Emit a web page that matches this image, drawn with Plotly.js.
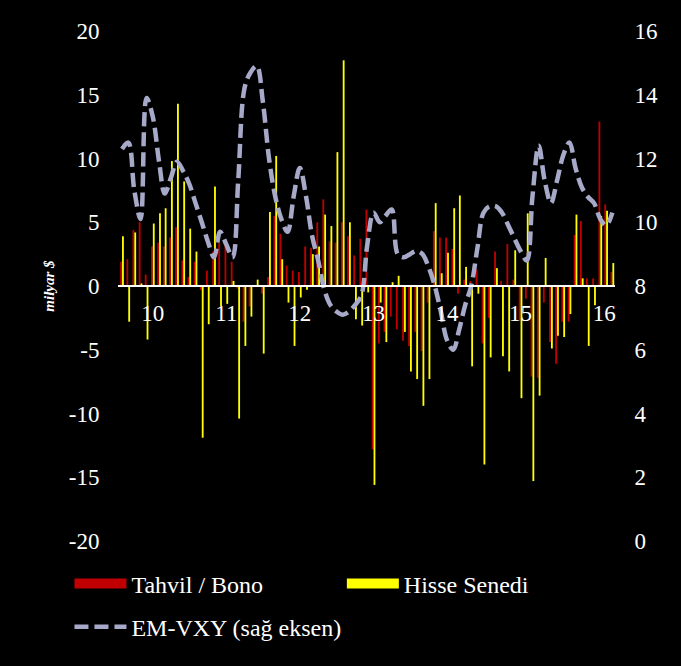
<!DOCTYPE html>
<html>
<head>
<meta charset="utf-8">
<script src="https://cdn.plot.ly/plotly-3.0.1.min.js"></script>
<style>html,body{margin:0;padding:0;background:#000;}#chart{width:681px;height:666px;}</style>
</head>
<body>
<div id="chart"></div>
<script>
var months = [
 '2009-08-01','2009-09-01','2009-10-01','2009-11-01','2009-12-01',
 '2010-01-01','2010-02-01','2010-03-01','2010-04-01','2010-05-01','2010-06-01','2010-07-01','2010-08-01','2010-09-01','2010-10-01','2010-11-01','2010-12-01',
 '2011-01-01','2011-02-01','2011-03-01','2011-04-01','2011-05-01','2011-06-01','2011-07-01','2011-08-01','2011-09-01','2011-10-01','2011-11-01','2011-12-01',
 '2012-01-01','2012-02-01','2012-03-01','2012-04-01','2012-05-01','2012-06-01','2012-07-01','2012-08-01','2012-09-01','2012-10-01','2012-11-01','2012-12-01',
 '2013-01-01','2013-02-01','2013-03-01','2013-04-01','2013-05-01','2013-06-01','2013-07-01','2013-08-01','2013-09-01','2013-10-01','2013-11-01','2013-12-01',
 '2014-01-01','2014-02-01','2014-03-01','2014-04-01','2014-05-01','2014-06-01','2014-07-01','2014-08-01','2014-09-01','2014-10-01','2014-11-01','2014-12-01',
 '2015-01-01','2015-02-01','2015-03-01','2015-04-01','2015-05-01','2015-06-01','2015-07-01','2015-08-01','2015-09-01','2015-10-01','2015-11-01','2015-12-01',
 '2016-01-01','2016-02-01','2016-03-01','2016-04-01'
];
var tahvil = [
 1.9, 2.1, 4.4, 5.0, 0.9,
 3.1, 3.4, 3.1, 3.8, 4.6, 2.0, 0.7, 1.9, -0.3, 1.2, 2.7, 3.4,
 3.2, 1.9, -0.2, -2.8, -1.6, 0.0, -0.6, 0.7, 5.5, 4.1, 1.6, 1.2,
 1.1, 3.1, 3.0, 5.0, 6.8, 3.5, 3.4, 5.0, 3.9, 2.4, 3.7, 6.0,
 -12.8, -4.5, -3.6, -2.4, -3.4, -4.3, -4.7, -3.6, -5.1, -1.3, 4.3, 3.8,
 3.8, 2.9, -0.6, 0.5, 0.4, 1.3, -4.5, -2.5, 2.7, 0.4, 3.3, 0.5,
 -2.7, -1.0, -7.1, -7.2, -1.3, -4.4, -6.1, -2.8, -2.8, 4.0, 5.1, 0.6,
 0.6, 12.9, 6.4, 1.1
];
var hisse = [
 3.9, -2.8, 4.2, 0.2, -4.2,
 4.9, 5.7, 6.1, 9.8, 14.3, 8.2, 4.5, 2.7, -11.9, -3.0, 7.8, -1.6,
 -1.4, 0.4, -10.4, -4.7, -2.4, 0.5, -5.3, 5.8, 10.2, 2.1, -1.3, -4.7,
 -0.9, -0.3, 2.5, 3.1, 5.6, 4.7, 10.5, 17.7, 5.0, -2.6, -3.1, -0.5,
 -15.6, -1.3, -4.4, 0.3, 0.8, -3.6, -6.7, -7.3, -9.4, -7.3, 6.5, 1.0,
 2.6, 6.1, 7.1, 1.5, -6.3, -0.6, -14.0, -5.6, 1.4, -5.5, -6.7, 2.8,
 -8.8, 5.7, -15.3, -8.6, 2.2, -4.9, -3.9, -4.0, -2.2, 5.6, 0.6, -4.7,
 -1.5, 5.5, 5.9, 1.8
];
var emvxy = [
 12.3, 12.5, 11.0, 10.1, 13.9,
 13.3, 11.9, 10.9, 11.4, 11.9, 11.6, 11.2, 10.6, 10.0, 9.4, 8.9, 9.7,
 9.3, 8.9, 11.3, 14.2, 14.7, 14.9, 13.8, 12.0, 10.8, 10.1, 9.7, 10.8,
 11.7, 10.8, 9.6, 8.8, 7.9, 7.4, 7.2, 7.1, 7.2, 7.4, 7.7, 9.3,
 10.3, 10.0, 10.2, 10.4, 9.0, 8.9, 9.0, 9.1, 9.0, 8.6, 8.0, 7.2,
 6.3, 6.0, 6.6, 7.4, 8.0, 9.2, 10.3, 10.5, 10.5, 10.3, 9.9, 9.5,
 9.1, 8.8, 10.8, 12.4, 11.3, 10.6, 11.3, 12.1, 12.5, 11.7, 11.1, 10.8,
 10.6, 10.1, 9.9, 10.3
];
var yearTickVals = ['2010-01-01','2011-01-01','2012-01-01','2013-01-01','2014-01-01','2015-01-01','2016-02-20'];
var yearTickText = ['10','11','12','13','14','15','16'];
var leftTicks = [-20,-15,-10,-5,0,5,10,15,20];
var leftTickText = ['-20','-15','-10','-5','0','5','10','15','20'];
var rightTicks = [0,2,4,6,8,10,12,14,16];

var RED = '#C00000', YEL = '#FFFF00', LINE = '#A7A9C9';
var FONT = 'Liberation Serif, Times New Roman, serif';
var DASH = '14px,6px';

var traces = [
 {type:'bar', x:months, y:tahvil, name:'Tahvil / Bono', marker:{color:RED}, showlegend:false},
 {type:'bar', x:months, y:hisse, name:'Hisse Senedi', marker:{color:YEL}, showlegend:false},
 {type:'scatter', mode:'lines', x:months, y:emvxy, yaxis:'y2', name:'EM-VXY (sağ eksen)', showlegend:false,
  line:{color:LINE, width:4.5, dash:DASH, shape:'spline', smoothing:1}},
 {type:'scatter', mode:'lines', x:[null], y:[null], name:'Tahvil / Bono', line:{color:RED, width:11}, legend:'legend'},
 {type:'scatter', mode:'lines', x:[null], y:[null], name:'Hisse Senedi', line:{color:YEL, width:11}, legend:'legend3'},
 {type:'scatter', mode:'lines', x:[null], y:[null], name:'EM-VXY (sağ eksen)', line:{color:LINE, width:4.5, dash:DASH}, legend:'legend2'}
];

var tickFont = {family:FONT, size:23, color:'#fff'};
var legendFont = {family:FONT, size:24, color:'#fff'};
function legendAt(x, y) {
 return {orientation:'h', xref:'container', yref:'container', x:x, xanchor:'left', y:y, yanchor:'top',
  bgcolor:'rgba(0,0,0,0)', font:legendFont, itemwidth:52};
}

var layout = {
 width:681, height:666,
 paper_bgcolor:'#000', plot_bgcolor:'#000',
 margin:{l:118, r:66, t:31, b:125},
 font:{family:FONT, color:'#fff', size:20},
 barmode:'group', bargap:0.35, bargroupgap:0,
 xaxis:{type:'date', range:['2009-07-12','2016-04-14'], anchor:'free', position:0.5,
  showline:true, linecolor:'#fff', linewidth:2, showgrid:false, zeroline:false,
  tickvals:yearTickVals, ticktext:yearTickText, ticks:'outside', ticklen:6, tickcolor:'rgba(0,0,0,0)',
  tickfont:tickFont},
 yaxis:{range:[-20,20], tickvals:leftTicks, ticktext:leftTickText, showgrid:false, zeroline:false, showline:false,
  ticks:'outside', ticklen:13, tickcolor:'rgba(0,0,0,0)', tickfont:tickFont,
  title:{text:'milyar $', standoff:10, font:{family:FONT, size:15, color:'#fff', style:'italic', weight:'bold'}}},
 yaxis2:{range:[0,16], overlaying:'y', side:'right', tickvals:rightTicks, showgrid:false, zeroline:false, showline:false,
  ticks:'outside', ticklen:14, tickcolor:'rgba(0,0,0,0)', tickfont:tickFont},
 showlegend:true,
 legend:legendAt(0.102, 0.157),
 legend3:legendAt(0.502, 0.157),
 legend2:legendAt(0.102, 0.092)
};

Plotly.newPlot('chart', traces, layout, {displayModeBar:false, staticPlot:true});
</script>
</body>
</html>
